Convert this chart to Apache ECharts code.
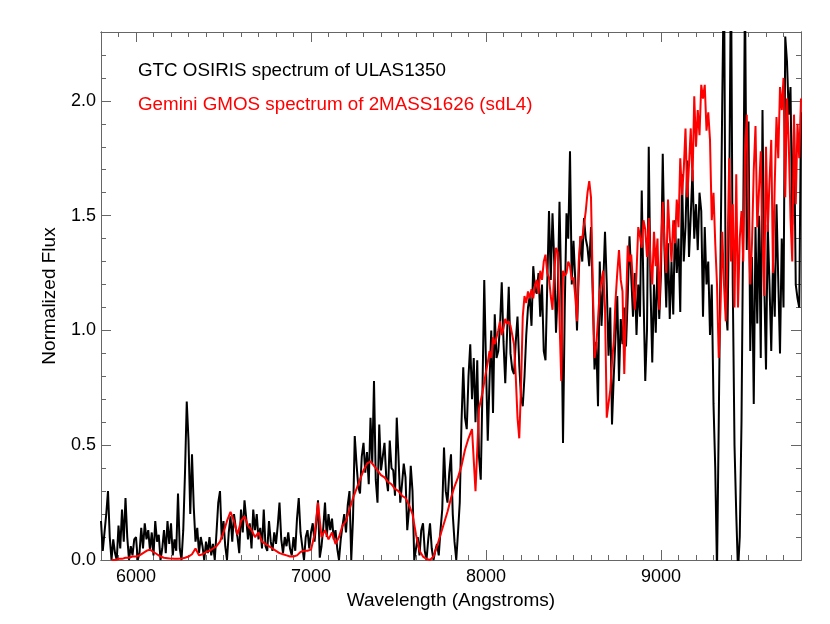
<!DOCTYPE html>
<html>
<head>
<meta charset="utf-8">
<script src="https://cdn.jsdelivr.net/npm/echarts@6/dist/echarts.min.js"></script>
<style>
  html, body { margin: 0; padding: 0; background: #fff; }
  #chart { width: 830px; height: 624px; }
</style>
</head>
<body>
<div id="chart"></div>
<script>
// GTC OSIRIS spectrum of ULAS1350: 5800 .. 9800 A, every 10 A
var blackStart = 5800;
var blackStep = 10;
var blackFlux = [
  0.17,0.04,0.12,0.20,0.30,0.10,0.00,0.09,0.03,0.00,
  0.15,0.05,0.22,0.08,0.27,0.10,0.00,0.06,0.02,0.09,
  0.10,0.00,0.03,0.14,0.05,0.16,0.09,0.13,0.04,0.12,
  0.02,0.17,0.08,0.11,0.00,0.05,0.13,0.03,0.17,0.07,
  0.16,0.02,0.09,0.04,0.29,0.05,0.00,0.13,0.38,0.69,
  0.52,0.20,0.46,0.23,0.08,0.14,0.03,0.10,0.06,0.00,
  0.08,0.03,0.10,0.02,0.07,0.00,0.12,0.25,0.30,0.09,
  0.17,0.06,0.00,0.12,0.19,0.08,0.20,0.14,0.10,0.03,
  0.22,0.12,0.26,0.18,0.09,0.16,0.05,0.22,0.13,0.20,
  0.09,0.14,0.05,0.22,0.06,0.04,0.17,0.08,0.04,0.12,
  0.07,0.15,0.25,0.09,0.03,0.10,0.06,0.12,0.05,0.02,
  0.10,0.04,0.18,0.27,0.12,0.06,0.00,0.10,0.13,0.05,
  0.12,0.16,0.08,0.16,0.26,0.01,0.06,0.14,0.25,0.10,
  0.20,0.13,0.18,0.09,0.13,0.05,0.00,0.09,0.15,0.20,
  0.12,0.24,0.30,0.00,0.18,0.54,0.42,0.32,0.29,0.45,
  0.51,0.38,0.47,0.33,0.62,0.42,0.78,0.35,0.25,0.59,
  0.39,0.45,0.51,0.36,0.30,0.52,0.40,0.39,0.28,0.62,
  0.45,0.25,0.33,0.42,0.36,0.13,0.22,0.41,0.30,0.00,
  0.05,0.10,0.02,0.13,0.16,0.04,0.00,0.09,0.16,0.05,
  0.00,0.04,0.07,0.02,0.13,0.22,0.49,0.30,0.25,0.38,
  0.46,0.20,0.08,0.00,0.12,0.25,0.60,0.84,0.62,0.57,
  0.80,0.94,0.70,0.88,0.60,0.87,0.45,0.35,0.75,1.22,
  0.85,0.52,0.78,1.00,0.64,1.07,0.88,0.91,1.02,1.21,
  0.95,0.77,0.98,1.19,0.90,0.83,0.81,0.95,1.06,0.85,
  0.71,0.67,0.80,0.98,1.10,1.15,1.02,1.28,1.18,1.16,
  1.25,1.06,1.20,0.91,0.87,1.20,1.52,1.22,1.51,1.30,
  0.99,1.17,1.56,1.17,0.51,1.10,1.51,1.40,1.78,1.20,
  1.39,1.22,1.00,1.25,1.41,1.30,1.49,1.40,1.36,1.28,
  1.45,1.16,0.83,0.95,0.67,1.30,1.02,1.20,1.43,1.20,
  0.89,1.10,0.59,0.80,0.97,1.15,0.78,1.05,0.94,1.10,
  0.93,1.15,1.41,1.41,1.06,1.25,0.98,1.20,1.06,1.61,
  1.16,0.78,1.00,1.80,1.19,0.86,1.20,0.99,1.30,1.05,
  1.25,1.77,1.35,1.10,1.38,1.05,1.30,1.07,1.48,1.25,
  1.40,1.08,1.68,1.30,1.45,1.74,1.32,1.50,1.70,1.40,
  1.55,1.35,1.60,1.52,1.06,1.45,1.20,1.30,0.98,1.20,
  0.68,0.40,-0.05,0.60,1.30,2.00,2.60,1.10,1.00,1.60,
  2.60,1.20,0.50,0.20,-0.05,0.10,0.60,1.50,2.50,1.35,
  1.91,0.91,1.32,0.68,1.45,1.03,1.50,0.88,1.96,1.20,
  0.83,1.46,1.20,0.91,1.30,1.06,1.55,1.22,0.90,1.40,
  1.10,2.28,2.17,1.94,2.06,1.46,1.90,1.20,1.14,1.10,
  1.95
];

// Gemini GMOS spectrum of 2MASS1626 (sdL4): smooth blue part 5860 .. 7980 A every 20 A
var redBlueStart = 5860;
var redBlueStep = 20;
var redBlueFlux = [
  0.00,0.00,0.005,0.005,0.01,0.01,0.015,
  0.015,0.02,0.03,0.04,0.045,0.035,0.025,0.015,0.01,0.008,
  0.006,0.005,0.005,0.006,0.01,0.015,0.025,0.05,0.02,0.025,
  0.035,0.04,0.05,0.06,0.08,0.12,0.17,0.21,0.17,0.11,
  0.17,0.19,0.15,0.13,0.10,0.12,0.08,0.07,0.06,0.05,
  0.04,0.03,0.025,0.02,0.015,0.015,0.02,0.035,0.04,0.04,
  0.045,0.11,0.25,0.10,0.13,0.09,0.12,0.07,0.10,0.15,
  0.17,0.22,0.27,0.31,0.35,0.39,0.42,0.43,0.41,0.39,
  0.37,0.36,0.34,0.33,0.31,0.30,0.28,0.27,0.24,0.20,
  0.11,0.04,0.015,0.005,0.0,0.015,0.06,0.11,0.16,0.21,
  0.27,0.32,0.36,0.41,0.48,0.53,0.57,0.30,0.66,0.73
];

// red part 8000 .. 9800 A every 10 A
var redRedStart = 8000;
var redRedStep = 10;
var redRedFlux = [
  0.82,0.86,0.91,0.88,0.97,0.94,0.97,1.00,1.04,0.98,
  1.01,1.05,1.03,1.04,1.02,0.98,0.94,0.80,0.62,0.53,
  0.75,1.06,1.15,1.12,1.17,1.14,1.18,1.14,1.20,1.22,
  1.16,1.26,1.22,1.30,1.33,1.25,1.23,1.15,1.09,1.25,
  1.36,1.34,1.05,0.78,1.26,1.24,1.25,1.30,1.28,1.22,
  1.23,1.15,1.04,1.30,1.41,1.40,1.46,1.52,1.60,1.65,
  1.58,1.20,0.88,0.93,1.05,1.17,1.22,1.26,1.10,0.62,
  0.68,0.74,0.86,0.95,1.13,1.25,1.35,1.22,1.17,0.81,
  1.10,1.37,1.30,1.33,1.20,1.09,1.25,1.45,1.41,1.36,
  1.48,1.44,1.32,1.49,1.30,1.20,1.43,1.28,1.40,1.09,
  1.35,1.56,1.38,1.25,1.57,1.41,1.30,1.48,1.38,1.57,
  1.45,1.75,1.59,1.70,1.88,1.58,1.72,1.88,1.65,2.02,
  1.80,1.96,1.85,2.07,2.01,2.07,1.87,1.95,1.83,1.48,
  1.60,1.38,1.20,0.88,1.10,1.43,1.20,1.04,1.35,1.75,
  1.30,1.55,1.10,1.68,1.10,1.40,1.52,1.30,1.77,1.94,
  1.50,1.20,1.38,1.70,1.89,1.45,1.61,1.78,1.40,1.15,
  1.80,1.43,1.65,1.83,1.25,1.64,1.93,1.75,2.06,1.96,
  2.10,1.58,2.01,1.82,1.49,1.30,1.94,1.55,1.90,1.75,
  2.01
];

var xTicks = [6000, 7000, 8000, 9000];
var yTicks = [0.0, 0.5, 1.0, 1.5, 2.0];
var legendTexts = ['GTC OSIRIS spectrum of ULAS1350', 'Gemini GMOS spectrum of 2MASS1626 (sdL4)'];

function toPairs(start, step, flux) {
  return flux.map(function (f, i) { return [start + i * step, f]; });
}

var axisColor = '#666';
var font = '"Liberation Sans", Arial, sans-serif';

function xAx(pos, major, labels) {
  var ax = {
    type: 'value', position: pos, min: 5800, max: 9800,
    axisLine: { show: true, onZero: false, lineStyle: { color: axisColor, width: 1 } },
    axisTick: { show: true, inside: true, length: major ? 10 : 5, lineStyle: { color: axisColor } },
    axisLabel: {
      show: labels, color: '#000', fontSize: 18, fontFamily: font, margin: 8,
      formatter: function (v) { return String(v); }
    },
    splitLine: { show: false }
  };
  if (major) {
    ax.axisTick.customValues = xTicks;
    ax.axisLabel.customValues = xTicks;
  } else {
    ax.interval = 100;
  }
  if (labels) {
    ax.name = 'Wavelength (Angstroms)';
    ax.nameLocation = 'middle';
    ax.nameGap = 28;
    ax.nameTextStyle = { color: '#000', fontSize: 19, fontFamily: font };
  }
  return ax;
}

function yAx(pos, major, labels) {
  var ax = {
    type: 'value', position: pos, min: 0, max: 2.3,
    axisLine: { show: true, onZero: false, lineStyle: { color: axisColor, width: 1 } },
    axisTick: { show: true, inside: true, length: major ? 10 : 5, lineStyle: { color: axisColor } },
    axisLabel: {
      show: labels, color: '#000', fontSize: 18, fontFamily: font, margin: 5,
      formatter: function (v) { return v.toFixed(1); }
    },
    splitLine: { show: false }
  };
  if (major) {
    ax.axisTick.customValues = yTicks;
    ax.axisLabel.customValues = yTicks;
  } else {
    ax.interval = 0.1;
  }
  if (labels) {
    ax.name = 'Normalized Flux';
    ax.nameLocation = 'middle';
    ax.nameGap = 42;
    ax.nameTextStyle = { color: '#000', fontSize: 19, fontFamily: font };
  }
  return ax;
}

var redData = toPairs(redBlueStart, redBlueStep, redBlueFlux).concat(toPairs(redRedStart, redRedStep, redRedFlux));

var myChart = echarts.init(document.getElementById('chart'));
myChart.setOption({
  animation: false,
  backgroundColor: '#fff',
  grid: { left: 101, right: 29, top: 32, bottom: 64 },
  xAxis: [xAx('bottom', true, true), xAx('bottom', false, false), xAx('top', true, false), xAx('top', false, false)],
  yAxis: [yAx('left', true, true), yAx('left', false, false), yAx('right', true, false), yAx('right', false, false)],
  graphic: [
    { type: 'text', left: 138, top: 61, style: { text: legendTexts[0], fill: '#000', font: '18.8px ' + font } },
    { type: 'text', left: 138, top: 95, style: { text: legendTexts[1], fill: '#ff0000', font: '18.8px ' + font } }
  ],
  series: [
    {
      name: legendTexts[0], type: 'line', xAxisIndex: 0, yAxisIndex: 0,
      showSymbol: false, symbol: 'none', clip: true,
      lineStyle: { color: '#000', width: 2 },
      data: toPairs(blackStart, blackStep, blackFlux)
    },
    {
      name: legendTexts[1], type: 'line', xAxisIndex: 0, yAxisIndex: 0,
      showSymbol: false, symbol: 'none', clip: true,
      lineStyle: { color: '#ff0000', width: 2 },
      data: redData
    }
  ]
});
</script>
</body>
</html>
